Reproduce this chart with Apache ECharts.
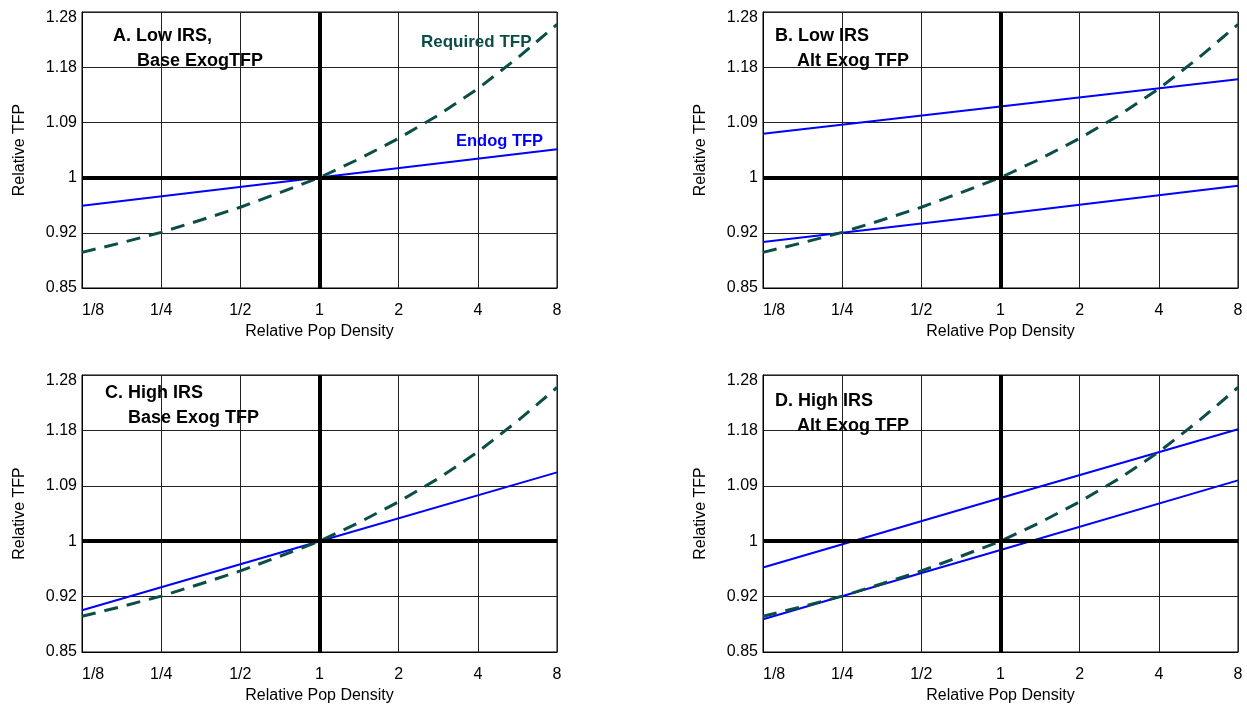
<!DOCTYPE html>
<html>
<head>
<meta charset="utf-8">
<script src="https://cdn.jsdelivr.net/npm/echarts@6/dist/echarts.min.js"></script>
<style>
  html, body { margin: 0; padding: 0; background: #fff; }
  #main { width: 1247px; height: 705px; }
</style>
</head>
<body>
<div id="main"></div>
<script>
// tick labels
var xTickLabels = ['1/8', '1/4', '1/2', '1', '2', '4', '8'];
var yTickLabels = ['0.85', '0.92', '1', '1.09', '1.18', '1.28'];

// required TFP curve (same in every panel), half-octave steps
var density = [0.125, 0.177, 0.25, 0.354, 0.5, 0.707, 1, 1.414, 2, 2.828, 4, 5.657, 8];
var requiredTFP = [0.895, 0.908, 0.922, 0.939, 0.957, 0.978, 1, 1.028, 1.060, 1.097, 1.141, 1.194, 1.255];

// endogenous TFP lines
var endogDensity = [0.125, 1, 8];
var endogA = [0.959, 1, 1.043];
var endogBHigh = [1.067, 1.111, 1.157];
var endogBLow = [0.909, 0.947, 0.988];
var endogC = [0.903, 1, 1.107];
var endogDHigh = [0.962, 1.066, 1.180];
var endogDLow = [0.891, 0.987, 1.094];

var FONT = '"Liberation Sans", Arial, sans-serif';
var TEAL = '#0b4d47';
var BLUE = '#0000ff';
// y ticks sit on powers of this base
var yBase = 1.0853;

function pairs(xs, ys) {
  return xs.map(function(x, i) { return [x, ys[i]]; });
}

var grids = [
  {left: 82, top: 12, width: 475, height: 276},
  {left: 763, top: 12, width: 475, height: 276},
  {left: 82, top: 375, width: 475, height: 277},
  {left: 763, top: 375, width: 475, height: 277}
];

var panelLines = [
  [endogA],
  [endogBHigh, endogBLow],
  [endogC],
  [endogDHigh, endogDLow]
];

var xAxes = [], yAxes = [], series = [];
grids.forEach(function(g, i) {
  g.show = true;
  g.borderColor = '#000';
  g.borderWidth = 1;
  g.containLabel = false;
  xAxes.push({
    type: 'log', logBase: 2, gridIndex: i,
    min: 0.125, max: 8, interval: 1,
    name: 'Relative Pop Density', nameLocation: 'middle', nameGap: 36,
    nameTextStyle: {fontFamily: FONT, fontSize: 16, color: '#000'},
    axisLine: {show: true, lineStyle: {color: '#000', width: 1}},
    axisTick: {show: false},
    splitLine: {show: true, lineStyle: {color: '#222', width: 1}},
    axisLabel: {
      fontFamily: FONT, fontSize: 16, color: '#000', margin: 15,
      alignMinLabel: 'left',
      formatter: function(v) { return xTickLabels[Math.round(Math.log2(v)) + 3]; }
    }
  });
  yAxes.push({
    type: 'log', logBase: yBase, gridIndex: i,
    min: Math.pow(yBase, -2), max: Math.pow(yBase, 3), interval: 1,
    name: 'Relative TFP', nameLocation: 'middle', nameGap: 54,
    nameTextStyle: {fontFamily: FONT, fontSize: 16, color: '#000'},
    axisLine: {show: true, lineStyle: {color: '#000', width: 1}},
    axisTick: {show: false},
    splitLine: {show: true, lineStyle: {color: '#222', width: 1}},
    axisLabel: {
      fontFamily: FONT, fontSize: 16, color: '#000', margin: 5,
      formatter: function(v) {
        var k = Math.round(Math.log(v) / Math.log(yBase)) + 2;
        // top label sits just below the frame
        return k === yTickLabels.length - 1 ? '{top|' + yTickLabels[k] + '}' : yTickLabels[k];
      },
      rich: {
        top: {fontFamily: FONT, fontSize: 16, color: '#000', padding: [11, 0, 0, 0]}
      }
    }
  });
  // thick reference lines at 1
  series.push({
    type: 'line', xAxisIndex: i, yAxisIndex: i, z: 1,
    data: [[1, 1]], symbol: 'none', lineStyle: {width: 0}, silent: true,
    markLine: {
      silent: true, symbol: 'none', label: {show: false},
      lineStyle: {color: '#000', width: 4, type: 'solid'},
      data: [{xAxis: 1}, {yAxis: 1}]
    }
  });
  panelLines[i].forEach(function(ys) {
    series.push({
      type: 'line', xAxisIndex: i, yAxisIndex: i, z: 3,
      data: pairs(endogDensity, ys), symbol: 'none',
      lineStyle: {color: BLUE, width: 2}
    });
  });
  series.push({
    type: 'line', xAxisIndex: i, yAxisIndex: i, z: 4,
    data: pairs(density, requiredTFP), symbol: 'none',
    lineStyle: {color: TEAL, width: 3, type: [14, 9]}
  });
});

function label(text, x, y, size, color) {
  return {
    type: 'text', left: x, top: y, z: 10,
    style: {text: text, font: 'bold ' + size + 'px ' + FONT, fill: color || '#000'}
  };
}

var chart = echarts.init(document.getElementById('main'));
chart.setOption({
  animation: false,
  backgroundColor: '#fff',
  grid: grids,
  xAxis: xAxes,
  yAxis: yAxes,
  series: series,
  graphic: [
    label('A. Low IRS,', 113, 27, 18),
    label('Base ExogTFP', 137, 52, 18),
    label('Required TFP', 421, 34, 17, TEAL),
    label('Endog TFP', 456, 133, 16.5, BLUE),
    label('B. Low IRS', 775, 27, 18),
    label('Alt Exog TFP', 797, 52, 18),
    label('C. High IRS', 105, 384, 18),
    label('Base Exog TFP', 128, 409, 18),
    label('D. High IRS', 775, 392, 18),
    label('Alt Exog TFP', 797, 417, 18)
  ]
});
</script>
</body>
</html>
